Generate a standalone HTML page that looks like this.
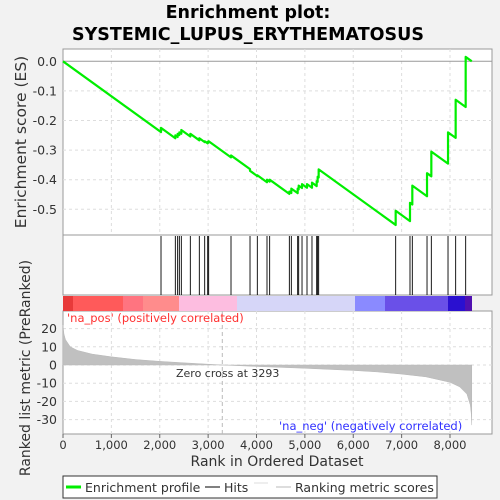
<!DOCTYPE html>
<html><head><meta charset="utf-8"><style>
body{margin:0;background:#f2f2f2;width:500px;height:500px;overflow:hidden}
svg{display:block;font-family:"DejaVu Sans","Liberation Sans",sans-serif}
</style></head><body>
<svg id="chart" width="500" height="500">
<text x="248" y="18" text-anchor="middle" font-size="17.5" font-weight="bold">Enrichment plot:</text>
<text x="248" y="40" text-anchor="middle" font-size="17.5" font-weight="bold">SYSTEMIC_LUPUS_ERYTHEMATOSUS</text>
<rect x="63" y="49" width="429" height="186" fill="#fff" stroke="#999"/>
<rect x="63" y="235" width="429" height="60" fill="#fff" stroke="#999"/>
<rect x="63" y="311" width="429" height="123" fill="#fff" stroke="#999"/>
<g id="grid"></g>
<g id="colorbar"></g>
<g id="metric"></g>
<g id="hits"></g>
<g id="es"></g>
<g id="axes" font-size="12.5" fill="#333"></g>
<text x="67" y="322" font-size="11.5" fill="#ff3030">'na_pos' (positively correlated)</text>
<text x="279" y="430" font-size="11.5" fill="#3030ff">'na_neg' (negatively correlated)</text>
<text x="176" y="377" font-size="11" fill="#333">Zero cross at 3293</text>
<text x="26" y="142" font-size="15.5" fill="#333" text-anchor="middle" transform="rotate(-90 26 142)">Enrichment score (ES)</text>
<text x="30" y="368" font-size="14" fill="#333" text-anchor="middle" transform="rotate(-90 30 368)">Ranked list metric (PreRanked)</text>
<text x="277" y="466" font-size="14" fill="#333" text-anchor="middle">Rank in Ordered Dataset</text>
<g>
<rect x="63" y="476" width="374" height="22" fill="#fff" stroke="#333"/>
<line x1="66" y1="487" x2="81" y2="487" stroke="#00ee00" stroke-width="3"/>
<text x="85" y="492" font-size="12.5" fill="#333">Enrichment profile</text>
<line x1="205" y1="487" x2="220" y2="487" stroke="#000"/>
<text x="224" y="492" font-size="12.5" fill="#333">Hits</text>
<line x1="254" y1="483" x2="268" y2="483" stroke="#ddd"/>
<line x1="276" y1="487" x2="291" y2="487" stroke="#bbb"/>
<text x="295" y="492" font-size="12.5" fill="#333">Ranking metric scores</text>
</g>
</svg>
<script>
const hitRanks=[2026,2322,2370,2405,2446,2632,2818,2929,2991,3011,3473,3866,4017,4217,4272,4679,4720,4851,4872,4941,5044,5147,5244,5264,5285,6877,7173,7221,7525,7614,7959,8117,8324];
const esAfterHit=[-0.225,-0.25,-0.245,-0.24,-0.232,-0.245,-0.26,-0.27,-0.272,-0.27,-0.318,-0.37,-0.385,-0.40,-0.40,-0.44,-0.43,-0.43,-0.42,-0.415,-0.415,-0.41,-0.405,-0.39,-0.365,-0.505,-0.478,-0.42,-0.378,-0.305,-0.24,-0.13,0.015];
const esEnd=[8450,0];
const metricRanks=[0,20,50,150,300,600,1000,1500,2000,2500,3293,4000,5000,6000,6500,7000,7500,8000,8200,8350,8420,8440,8450];
const metricValues=[22,17,14,10,8,6,4.5,3,2,1.2,0,-0.8,-1.8,-3,-3.8,-5,-6.5,-9.5,-12,-16,-22,-27,-33];
const xTicks=[0,1000,2000,3000,4000,5000,6000,7000,8000];
const esTicks=[0,-0.1,-0.2,-0.3,-0.4,-0.5];
const metricTicks=[20,10,0,-10,-20,-30];
const NS="http://www.w3.org/2000/svg";
const X=r=>63+r*0.048375;
const YE=v=>61.3-v*296;
const YM=v=>365-v*1.82;
const slope=-0.000118;
function fmt(n){return String(n).replace(/\B(?=(\d{3})+(?!\d))/g,',');}
function mk(tag,attrs,parent){const e=document.createElementNS(NS,tag);for(const k in attrs)e.setAttribute(k,attrs[k]);document.getElementById(parent).appendChild(e);return e;}
xTicks.forEach(t=>{if(t===0)return;[[49,235],[311,434]].forEach(([a,b])=>{const l=mk('line',{x1:X(t),x2:X(t),y1:a,y2:b,stroke:'#ddd','stroke-dasharray':'3,3'},'grid');

});});
esTicks.forEach(t=>{const l=mk('line',{x1:63,x2:492,y1:YE(t),y2:YE(t),stroke:t===0?'#999':'#ddd','stroke-dasharray':t===0?'':'3,3'},'grid');

});
metricTicks.forEach(t=>{const l=mk('line',{x1:63,x2:492,y1:YM(t),y2:YM(t),stroke:'#ddd','stroke-dasharray':'3,3'},'grid');

});
const zc=mk('line',{x1:X(3293),x2:X(3293),y1:311,y2:434,stroke:'#bbb','stroke-dasharray':'4,3'},'grid');


const cb=[[63,73,'#e83a3a'],[73,123,'#ff5a5a'],[123,143,'#ff7480'],[143,179,'#ff8c8c'],[179,237,'#fdbde0'],[237,355,'#d6d6f8'],[355,385,'#8a8aff'],[385,448,'#6a50e8'],[448,465,'#2a10d0'],[465,472,'#5010b0']];
cb.forEach(c=>{const r=mk('rect',{x:c[0],y:296,width:c[1]-c[0],height:15,fill:c[2]},'colorbar');

});
let d='M'+X(0)+','+YM(0);
metricRanks.forEach((r,i)=>{d+=' L'+X(r)+','+YM(metricValues[i]);});
d+=' L'+X(metricRanks[metricRanks.length-1])+','+YM(0)+' Z';
const ma=mk('path',{d:d,fill:'#c0c0c0',stroke:'#b8b8b8','stroke-width':0.5},'metric');


hitRanks.forEach(r=>{const l=mk('line',{x1:X(r),x2:X(r),y1:236,y2:295,stroke:'#000','stroke-width':0.9},'hits');

});
let p='M'+X(0)+','+YE(0);let prevR=0,prevV=0;
hitRanks.forEach((r,i)=>{const before=prevV+slope*(r-prevR);p+=' L'+X(r)+','+YE(before)+' L'+X(r)+','+YE(esAfterHit[i]);prevR=r;prevV=esAfterHit[i];});
p+=' L'+X(esEnd[0])+','+YE(esEnd[1]);
const es=mk('path',{d:p,fill:'none',stroke:'#00ee00','stroke-width':2.2,'stroke-linejoin':'round'},'es');


esTicks.forEach(t=>{const e=mk('text',{x:57,y:YE(t)+4.5,'text-anchor':'end'},'axes');e.textContent=t.toFixed(1);

});
metricTicks.forEach(t=>{const e=mk('text',{x:57,y:YM(t)+4.5,'text-anchor':'end'},'axes');e.textContent=String(t);

});
xTicks.forEach(t=>{const e=mk('text',{x:X(t),y:449,'text-anchor':'middle','font-size':11.5},'axes');e.textContent=fmt(t);


const tk=mk('line',{x1:X(t),x2:X(t),y1:434,y2:438,stroke:'#666'},'axes');

});
</script>
</body></html>
